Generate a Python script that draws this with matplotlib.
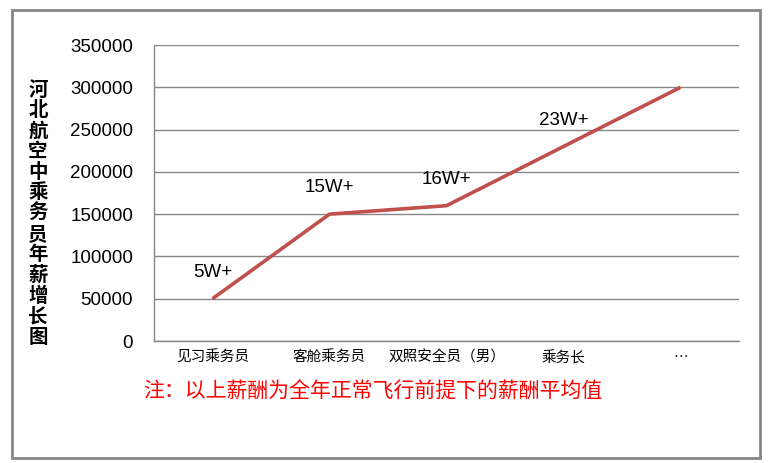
import matplotlib
matplotlib.use("Agg")
import matplotlib.pyplot as plt
from matplotlib.patches import Rectangle

plt.rcParams['font.family'] = ['Noto Sans CJK SC', 'DejaVu Sans']

categories = ["见习乘务员", "客舱乘务员", "双照安全员（男）", "乘务长", "…"]
values = [50000, 150000, 160000, 230000, 300000]
point_labels = ["5W+", "15W+", "16W+", "23W+"]
yticks = [0, 50000, 100000, 150000, 200000, 250000, 300000, 350000]
ylabel_text = "河北航空中乘务员年薪增长图"
note_text = "注：以上薪酬为全年正常飞行前提下的薪酬平均值"

W, H = 774, 463
fig = plt.figure(figsize=(W / 100, H / 100), dpi=100)
ax = fig.add_axes([154 / W, 1 - 341 / H, (739 - 154) / W, (341 - 45) / H])

x = list(range(len(categories)))
ax.plot(x, values, color="#C0504D", linewidth=2.6, solid_capstyle="butt", zorder=3)

for i, lab in enumerate(point_labels):
    ax.annotate(lab, (x[i], values[i]), xytext=(0, 19), textcoords="offset points",
                ha="center", va="center", fontsize=13.5, family="Liberation Sans",
                color="black")

ax.set_xlim(-0.5, len(categories) - 0.5)
ax.set_ylim(0, 350000)
ax.set_yticks(yticks)
ax.set_yticklabels([str(v) for v in yticks], family="Liberation Sans", fontsize=13.5)
ax.set_xticks(x)
ax.set_xticklabels(categories, fontsize=10.5)
ax.yaxis.grid(True, color="#868686", linewidth=1)
ax.set_axisbelow(True)
for s in ["top", "right"]:
    ax.spines[s].set_visible(False)
for s in ["left", "bottom"]:
    ax.spines[s].set_color("#868686")
    ax.spines[s].set_linewidth(1)
ax.tick_params(axis="y", length=0, pad=15)
ax.tick_params(axis="x", length=0, pad=7)

# vertical stacked y-label
y0 = 90
step = 20.6
for i, ch in enumerate(ylabel_text):
    fig.text(38 / W, 1 - (y0 + i * step) / H, ch, ha="center", va="center",
             fontsize=14, fontweight="bold")

fig.text(143 / W, 1 - 392 / H, note_text, ha="left", va="center", fontsize=15,
         color="#FF0000")

fig.patches.append(Rectangle((11.5 / W, 1 - 458 / H), (760 - 11.5) / W, (458 - 9.5) / H,
                             transform=fig.transFigure, fill=False,
                             edgecolor="#868686", linewidth=2))

fig.savefig("out.png", dpi=100)
